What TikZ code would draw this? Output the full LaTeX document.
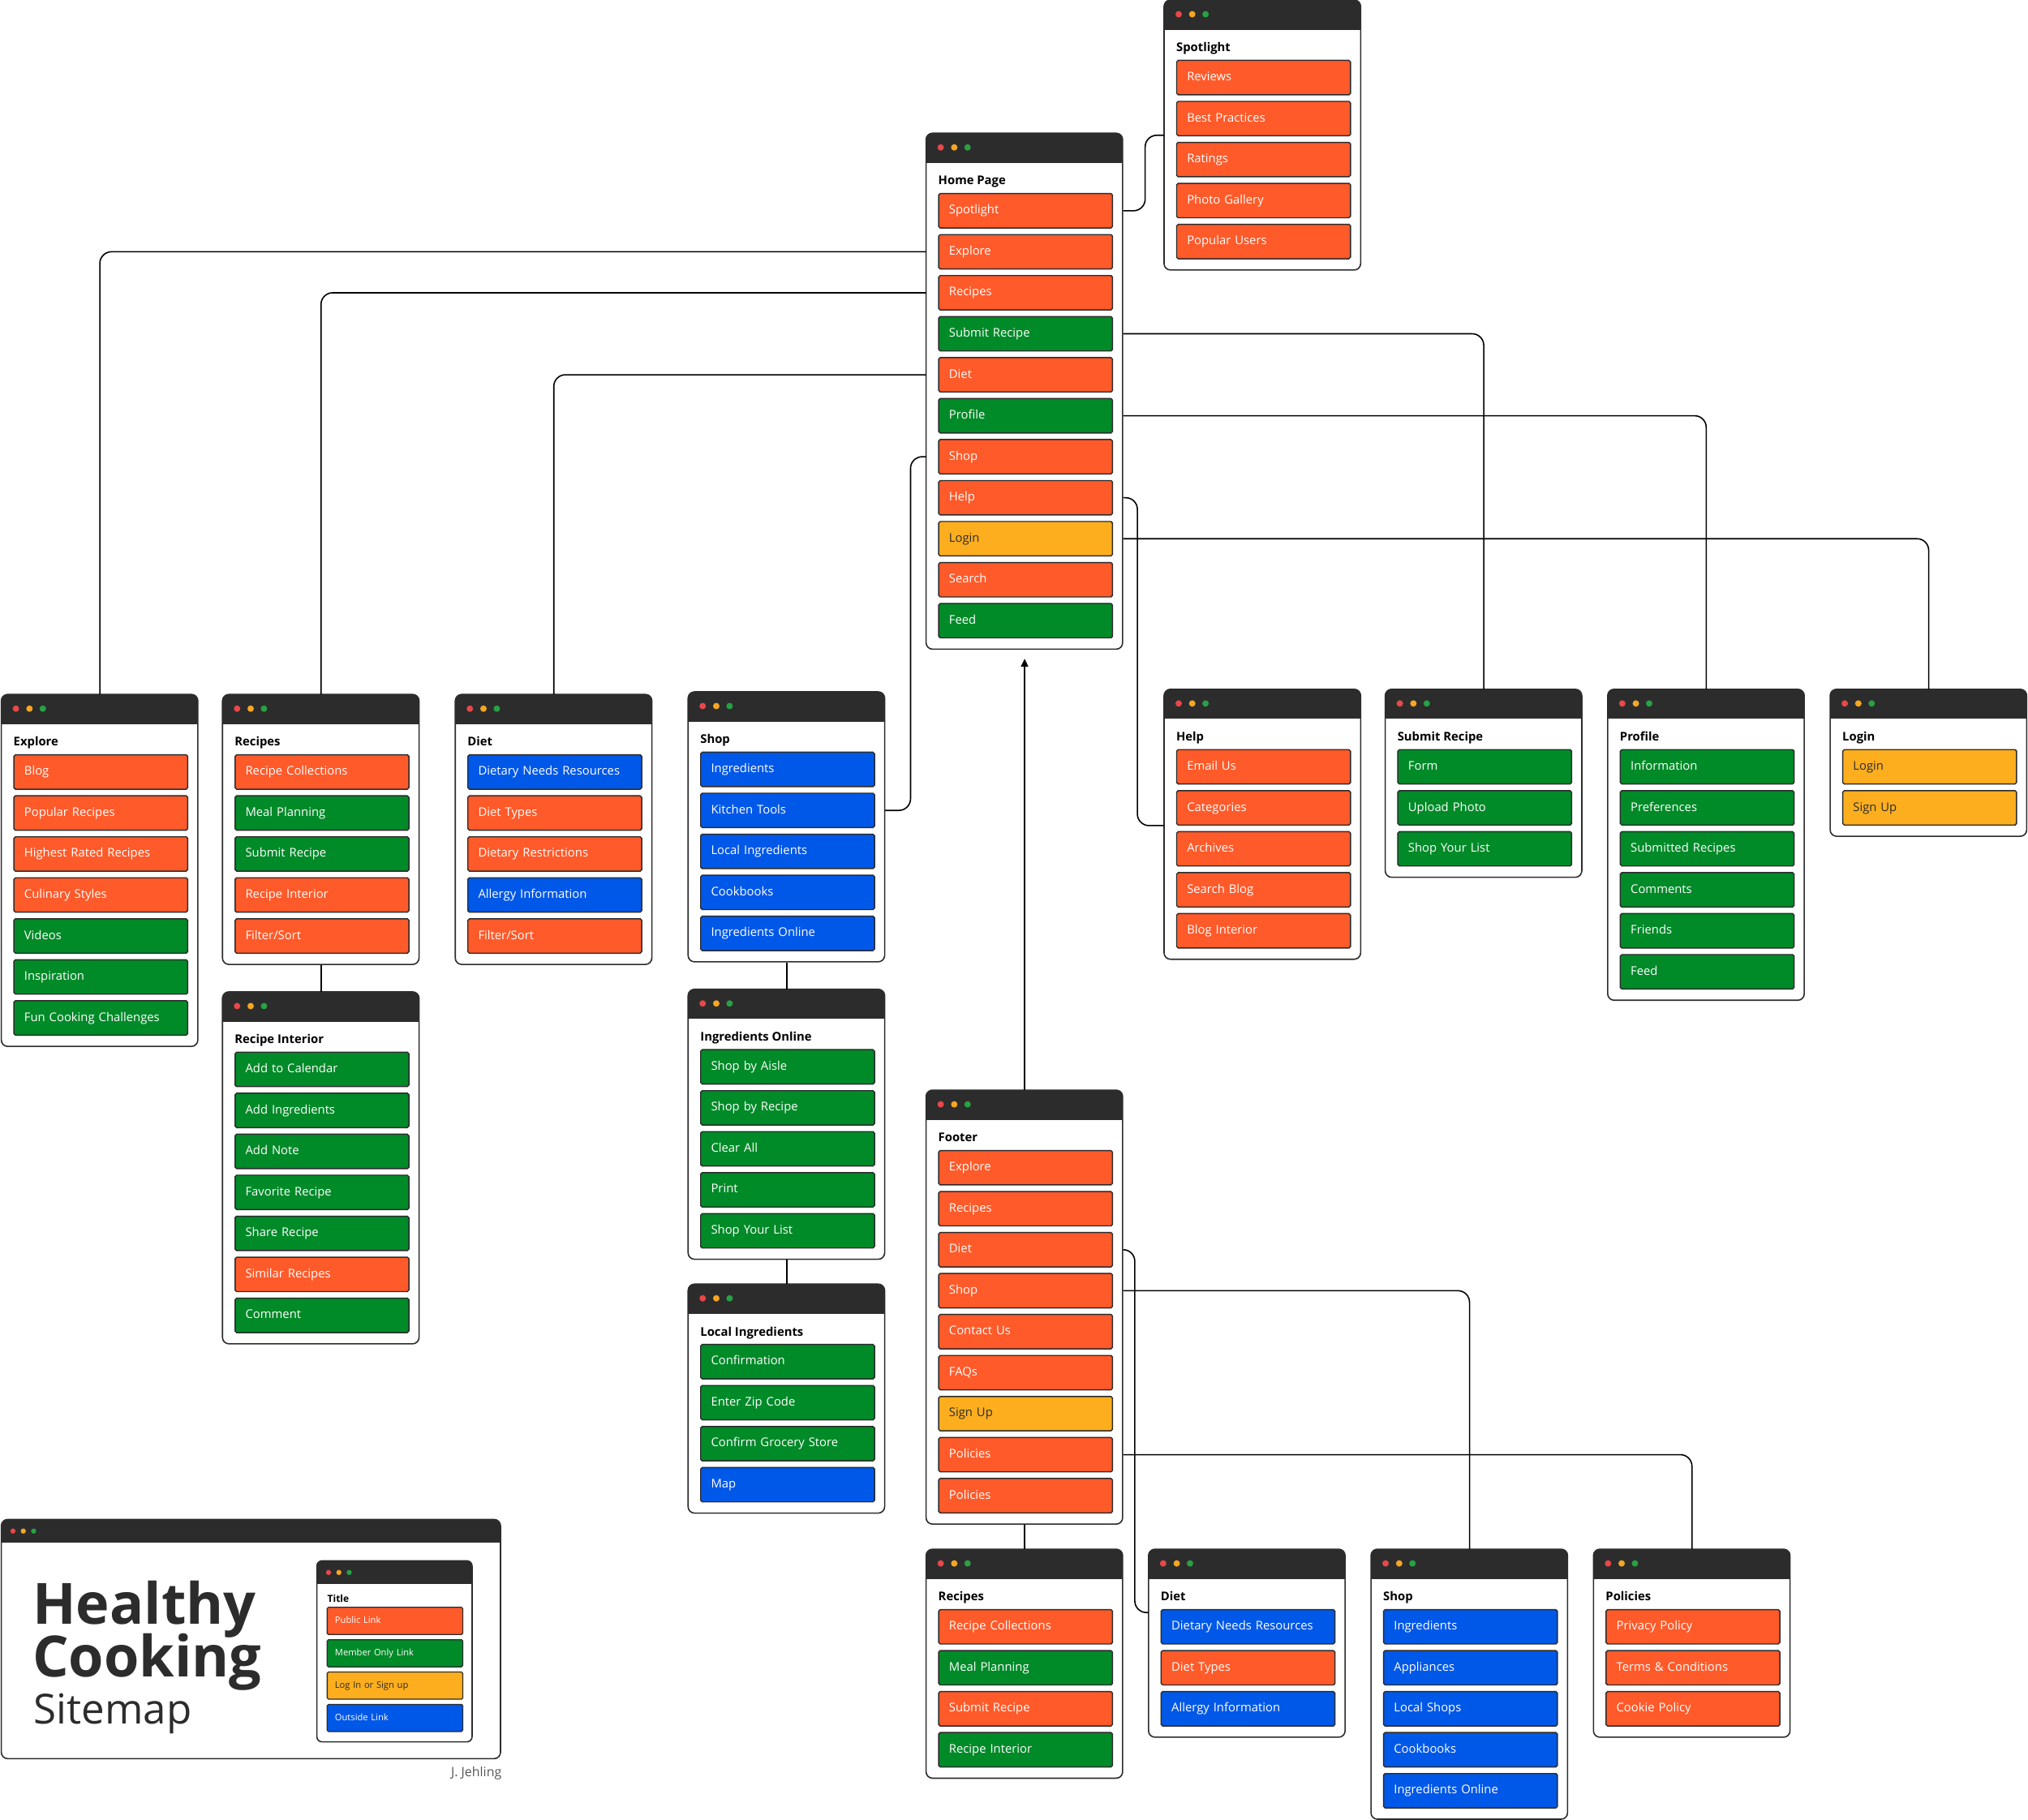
\documentclass[tikz,border=0pt]{standalone}
\usepackage{fontspec}
\setmainfont{Open Sans}
\usetikzlibrary{arrows.meta}
\definecolor{cO}{HTML}{FF5A2A}
\definecolor{cG}{HTML}{008A28}
\definecolor{cB}{HTML}{0058E8}
\definecolor{cY}{HTML}{FCAE1E}
\definecolor{cH}{HTML}{2C2C2C}
\definecolor{dR}{HTML}{E8484A}
\definecolor{dY}{HTML}{F5A623}
\definecolor{dG}{HTML}{27A243}
\definecolor{auth}{HTML}{555555}
\tikzset{
  cardfill/.style={fill=white, draw=none, inner sep=0pt, anchor=north west},
  cardline/.style={draw=cH, line width=1pt, rounded corners=5pt},
  btn/.style={draw=cH, line width=0.9pt, rounded corners=1.2pt, minimum height=26.6pt,
    text width=118.4pt, inner xsep=8pt, inner ysep=0pt, align=left, anchor=west,
    font=\fontsize{9.3}{11}\selectfont, text height=7pt, text depth=2pt},
  btO/.style={btn, fill=cO, text=white},
  btG/.style={btn, fill=cG, text=white},
  btB/.style={btn, fill=cB, text=white},
  btY/.style={btn, fill=cY, text=cH},
  cardtitle/.style={anchor=base west, inner sep=0pt, font=\fontsize{9.3}{11}\selectfont\bfseries},
  lbtn/.style={draw=cH, line width=0.8pt, rounded corners=1pt, minimum height=21pt,
    text width=92.8pt, inner xsep=6pt, inner ysep=0pt, align=left, anchor=west,
    font=\fontsize{7}{8}\selectfont, text height=5.2pt, text depth=1.5pt},
  conn/.style={draw=black, line width=1pt, rounded corners=9pt},
}
% name, x, y, n, title, items
\newcommand\drawcard[6]{%
  \pgfmathsetmacro\cardh{82+(#4-1)*31.7}%
  \node[cardfill, minimum width=152pt, minimum height=\cardh pt] (#1) at (#2,#3) {};
  \begin{scope}
    \clip[rounded corners=5pt] (#2,#3) rectangle ({#2+152},{#3+\cardh});
    \fill[cH] (#2,#3) rectangle ({#2+152},{#3+23});
  \end{scope}
  \draw[cardline] (#2,#3) rectangle ({#2+152},{#3+\cardh});
  \fill[dR] ({#2+11.3},{#3+11}) circle[radius=2.5pt];
  \fill[dY] ({#2+21.8},{#3+11}) circle[radius=2.5pt];
  \fill[dG] ({#2+32.1},{#3+11}) circle[radius=2.5pt];
  \node[cardtitle] (#1-t) at ({#2+9.3},{#3+40}) {#5};
  \foreach \bs/\bl [count=\bi] in {#6} {
    \node[\bs] (#1-\bi) at ({#2+9.3},{#3+60+(\bi-1)*31.7}) {\bl};
  }
}
\begin{document}
\begin{tikzpicture}[x=1pt,y=-1pt]
\useasboundingbox (0,0) rectangle (1568,1407);

\drawcard{spot}{900}{0}{5}{Spotlight}{btO/Reviews,btO/Best Practices,btO/Ratings,btO/Photo Gallery,btO/Popular Users}
\drawcard{home}{716}{103}{11}{Home Page}{btO/Spotlight,btO/Explore,btO/Recipes,btG/Submit Recipe,btO/Diet,btG/Profile,btO/Shop,btO/Help,btY/Login,btO/Search,btG/Feed}
\drawcard{explore}{1}{537}{7}{Explore}{btO/Blog,btO/Popular Recipes,btO/Highest Rated Recipes,btO/Culinary Styles,btG/Videos,btG/Inspiration,btG/Fun Cooking Challenges}
\drawcard{recipes}{172}{537}{5}{Recipes}{btO/Recipe Collections,btG/Meal Planning,btG/Submit Recipe,btO/Recipe Interior,btO/{Filter/Sort}}
\drawcard{recint}{172}{767}{7}{Recipe Interior}{btG/Add to Calendar,btG/Add Ingredients,btG/Add Note,btG/Favorite Recipe,btG/Share Recipe,btO/Similar Recipes,btG/Comment}
\drawcard{diet}{352}{537}{5}{Diet}{btB/Dietary Needs Resources,btO/Diet Types,btO/Dietary Restrictions,btB/Allergy Information,btO/{Filter/Sort}}
\drawcard{shop}{532}{535}{5}{Shop}{btB/Ingredients,btB/Kitchen Tools,btB/Local Ingredients,btB/Cookbooks,btB/Ingredients Online}
\drawcard{ingon}{532}{765}{5}{Ingredients Online}{btG/Shop by Aisle,btG/Shop by Recipe,btG/Clear All,btG/Print,btG/Shop Your List}
\drawcard{locing}{532}{993}{4}{Local Ingredients}{btG/Confirmation,btG/Enter Zip Code,btG/Confirm Grocery Store,btB/Map}
\drawcard{help}{900}{533}{5}{Help}{btO/Email Us,btO/Categories,btO/Archives,btO/Search Blog,btO/Blog Interior}
\drawcard{submit}{1071}{533}{3}{Submit Recipe}{btG/Form,btG/Upload Photo,btG/Shop Your List}
\drawcard{profile}{1243}{533}{6}{Profile}{btG/Information,btG/Preferences,btG/Submitted Recipes,btG/Comments,btG/Friends,btG/Feed}
\drawcard{login}{1415}{533}{2}{Login}{btY/Login,btY/Sign Up}
\drawcard{footer}{716}{843}{9}{Footer}{btO/Explore,btO/Recipes,btO/Diet,btO/Shop,btO/Contact Us,btO/FAQs,btY/Sign Up,btO/Policies,btO/Policies}
\drawcard{frec}{716}{1198}{4}{Recipes}{btO/Recipe Collections,btG/Meal Planning,btO/Submit Recipe,btG/Recipe Interior}
\drawcard{fdiet}{888}{1198}{3}{Diet}{btB/Dietary Needs Resources,btO/Diet Types,btB/Allergy Information}
\drawcard{fshop}{1060}{1198}{5}{Shop}{btB/Ingredients,btB/Appliances,btB/Local Shops,btB/Cookbooks,btB/Ingredients Online}
\drawcard{fpol}{1232}{1198}{3}{Policies}{btO/Privacy Policy,btO/Terms \& Conditions,btO/Cookie Policy}

% connectors
\draw[conn] (home.east |- home-1.center) -- ++(17,0) |- (spot.west);
\draw[conn] (home.west |- home-2.center) -| (explore.north);
\draw[conn] (home.west |- home-3.center) -| (recipes.north);
\draw[conn] (home.west |- home-5.center) -| (diet.north);
\draw[conn] (home.west |- home-7.center) -- ++(-12,0) |- (shop.east |- shop-2.center);
\draw[conn] (home.east |- home-4.center) -| (submit.north);
\draw[conn] (home.east |- home-6.center) -| (profile.north);
\draw[conn] (home.east |- home-8.center) -- ++(11,0) |- (help.west |- help-2.south);
\draw[conn] (home.east |- home-9.center) -| (login.north);
\draw[conn] (recipes.south) -- (recint.north);
\draw[conn] (shop.south) -- (ingon.north);
\draw[conn] (ingon.south) -- (locing.north);
\coordinate (tip) at ([yshift=-7pt]home.south);
\draw[conn, -{Triangle[length=6pt,width=5.5pt]}] (footer.north) -- (tip);
\draw[conn] (footer.south) -- (frec.north);
\draw[conn] (footer.east |- footer-3.center) -- ++(9,0) |- (fdiet.west |- 0,1247);
\draw[conn] (footer.east |- footer-4.center) -| (fshop.north);
\draw[conn] (footer.east |- footer-8.center) -| (fpol.north);

% legend
\node[cardfill, minimum width=386pt, minimum height=185pt] (legend) at (1,1175) {};
\begin{scope}
  \clip[rounded corners=5pt] (1,1175) rectangle (387,1360);
  \fill[cH] (1,1175) rectangle (387,1193);
\end{scope}
\draw[cardline] (1,1175) rectangle (387,1360);
\fill[dR] (10,1184) circle[radius=2pt];
\fill[dY] (18,1184) circle[radius=2pt];
\fill[dG] (26,1184) circle[radius=2pt];
\node[anchor=base west, inner sep=0pt, text=cH, font=\fontsize{44}{44}\selectfont\bfseries] (lh1) at (25,1256) {Healthy};
\node[anchor=base west, inner sep=0pt, text=cH, font=\fontsize{44}{44}\selectfont\bfseries] (lh2) at (25,1297) {Cooking};
\node[anchor=base west, inner sep=0pt, text=cH, font=\fontsize{32}{32}\selectfont] (lh3) at (26,1333) {Sitemap};

\node[cardfill, minimum width=120pt, minimum height=140pt] (legcard) at (245,1207) {};
\begin{scope}
  \clip[rounded corners=4pt] (245,1207) rectangle (365,1347);
  \fill[cH] (245,1207) rectangle (365,1225);
\end{scope}
\draw[cardline, rounded corners=4pt] (245,1207) rectangle (365,1347);
\fill[dR] (254,1216) circle[radius=2pt];
\fill[dY] (262,1216) circle[radius=2pt];
\fill[dG] (270,1216) circle[radius=2pt];
\node[anchor=base west, inner sep=0pt, font=\fontsize{7.5}{9}\selectfont\bfseries] (legt) at (253,1239) {Title};
\node[lbtn, fill=cO, text=white] (leg1) at (252.6,1253.5) {Public Link};
\node[lbtn, fill=cG, text=white] (leg2) at (252.6,1278.5) {Member Only Link};
\node[lbtn, fill=cY, text=cH] (leg3) at (252.6,1303.5) {Log In or Sign up};
\node[lbtn, fill=cB, text=white] (leg4) at (252.6,1328.5) {Outside Link};

\node[anchor=base east, inner sep=0pt, text=auth, font=\fontsize{10}{12}\selectfont] (author) at (388,1374) {J. Jehling};
\end{tikzpicture}
\end{document}
